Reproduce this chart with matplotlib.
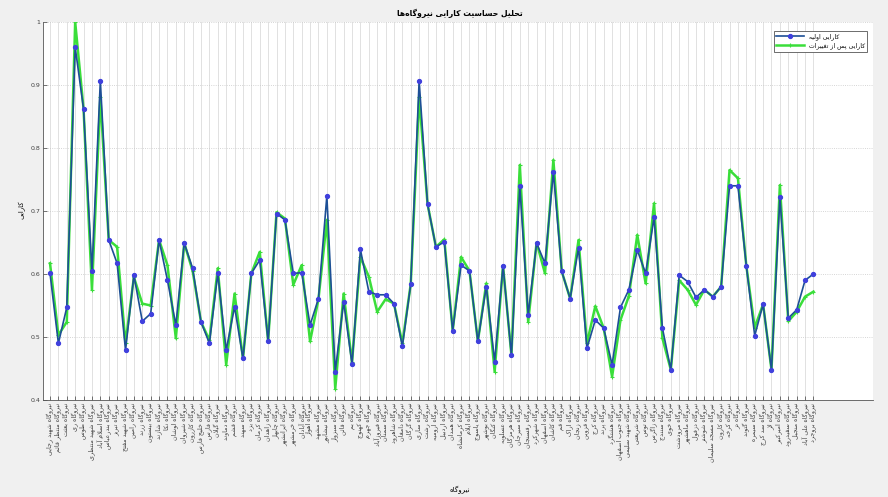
import numpy as np
import matplotlib
matplotlib.use("Agg")
import matplotlib.pyplot as plt

# --- data ---
plants = [
    'شهید رجایی', 'منتظر قائم', 'بعثت', 'ری', 'طوس', 'شهید منتظری', 'اسلام آباد', 'بندرعباس',
    'تبریز', 'شهید مفتح', 'رامین', 'زرند', 'بیستون', 'شازند', 'نکا', 'لوشان', 'شیروان',
    'کازرون', 'خلیج فارس', 'فارس', 'گیلان', 'دماوند', 'قشم', 'سهند', 'یزد', 'کرمان',
    'زاهدان', 'چابهار', 'ایرانشهر', 'خرمشهر', 'آبادان', 'اهواز', 'مشهد', 'نیشابور',
    'سبزوار', 'قائن', 'بم', 'کهنوج', 'جهرم', 'فیروزآباد', 'سمنان', 'شاهرود', 'دامغان',
    'گرگان', 'ساری', 'رشت', 'ارومیه', 'اردبیل', 'همدان', 'کرمانشاه', 'ایلام', 'یاسوج',
    'بوشهر', 'کنگان', 'عسلویه', 'هرمزگان', 'سیرجان', 'رفسنجان', 'شهرکرد', 'اصفهان',
    'کاشان', 'قم', 'اراک', 'زنجان', 'قزوین', 'کرج', 'پرند', 'هشتگرد', 'جنوب اصفهان',
    'شهید سلیمی', 'شریعتی', 'توس', 'زاگرس', 'سنندج', 'خوی', 'مرودشت', 'ماهشهر', 'دزفول',
    'شوشتر', 'مسجد سلیمان', 'کارون', 'کرخه', 'دز', 'گتوند', 'سیمره', 'سد کرج', 'لار',
    'امیرکبیر', 'سفیدرود', 'منجیل', 'علی آباد', 'بروجرد',
]

eff_base = [0.601, 0.490, 0.547, 0.960, 0.862, 0.604, 0.907, 0.654, 0.617, 0.479,
            0.598, 0.525, 0.537, 0.654, 0.590, 0.519, 0.649, 0.609, 0.524, 0.490,
            0.601, 0.479, 0.548, 0.466, 0.601, 0.622, 0.493, 0.696, 0.686, 0.601,
            0.602, 0.519, 0.561, 0.724, 0.445, 0.556, 0.457, 0.639, 0.572, 0.567,
            0.567, 0.553, 0.485, 0.584, 0.907, 0.711, 0.643, 0.651, 0.510, 0.614,
            0.605, 0.493, 0.580, 0.461, 0.613, 0.471, 0.739, 0.535, 0.649, 0.617,
            0.762, 0.604, 0.561, 0.642, 0.482, 0.527, 0.514, 0.456, 0.547, 0.575,
            0.638, 0.601, 0.690, 0.514, 0.448, 0.598, 0.588, 0.563, 0.575, 0.564,
            0.580, 0.740, 0.740, 0.613, 0.502, 0.552, 0.448, 0.722, 0.530, 0.543,
            0.590, 0.600]

eff_changed = [0.617, 0.503, 0.524, 1.000, 0.862, 0.575, 0.881, 0.654, 0.643, 0.490,
               0.595, 0.553, 0.550, 0.654, 0.614, 0.498, 0.649, 0.605, 0.524, 0.495,
               0.609, 0.456, 0.569, 0.466, 0.601, 0.635, 0.493, 0.698, 0.688, 0.583,
               0.614, 0.493, 0.560, 0.686, 0.418, 0.569, 0.460, 0.627, 0.596, 0.540,
               0.560, 0.553, 0.490, 0.584, 0.881, 0.711, 0.643, 0.655, 0.510, 0.627,
               0.605, 0.493, 0.585, 0.445, 0.613, 0.471, 0.773, 0.524, 0.650, 0.601,
               0.781, 0.604, 0.561, 0.654, 0.490, 0.549, 0.514, 0.437, 0.527, 0.565,
               0.662, 0.585, 0.712, 0.498, 0.448, 0.590, 0.575, 0.551, 0.575, 0.564,
               0.580, 0.765, 0.752, 0.613, 0.515, 0.552, 0.448, 0.741, 0.525, 0.540,
               0.564, 0.572]

# --- minimal persian shaping (matplotlib has no bidi / joining) ---
DUAL = {'ب': 0xFE8F, 'ت': 0xFE95, 'ث': 0xFE99, 'ج': 0xFE9D, 'ح': 0xFEA1, 'خ': 0xFEA5,
        'س': 0xFEB1, 'ش': 0xFEB5, 'ص': 0xFEB9, 'ض': 0xFEBD, 'ط': 0xFEC1, 'ظ': 0xFEC5,
        'ع': 0xFEC9, 'غ': 0xFECD, 'ف': 0xFED1, 'ق': 0xFED5, 'ل': 0xFEDD, 'م': 0xFEE1,
        'ن': 0xFEE5, 'ه': 0xFEE9, 'ی': 0xFBFC, 'پ': 0xFB56, 'چ': 0xFB7A, 'ک': 0xFB8E,
        'گ': 0xFB92, 'ئ': 0xFE89}
RIGHT = {'ا': 0xFE8D, 'آ': 0xFE81, 'د': 0xFEA9, 'ذ': 0xFEAB, 'ر': 0xFEAD, 'ز': 0xFEAF,
         'ژ': 0xFB8A, 'و': 0xFEED}


def fa(s):
    out = []
    i = 0
    while i < len(s):
        c = s[i]
        pj = i > 0 and s[i - 1] in DUAL
        nxt = s[i + 1] if i + 1 < len(s) else ''
        if c == 'ل' and nxt in ('ا', 'آ'):
            base = 0xFEFB if nxt == 'ا' else 0xFEF5
            out.append(chr(base + (1 if pj else 0)))
            i += 2
            continue
        if c in DUAL:
            nj = nxt in DUAL or nxt in RIGHT
            off = 3 if (pj and nj) else 1 if pj else 2 if nj else 0
            out.append(chr(DUAL[c] + off))
        elif c in RIGHT:
            out.append(chr(RIGHT[c] + (1 if pj else 0)))
        elif c != '\u200c':
            out.append(c)
        i += 1
    return ''.join(reversed(out))


plt.rcParams['font.family'] = ['DejaVu Sans']

fig = plt.figure(figsize=(8.88, 4.97), dpi=100, facecolor='#f0f0f0')
ax = fig.add_axes([43 / 888, 97 / 497, 830 / 888, 378 / 497])
ax.set_facecolor('white')

x = np.arange(1, len(plants) + 1)
ax.plot(x, eff_changed, color='#3ade3a', lw=1.8, marker='+', ms=3, mew=0.8,
        label=fa('کارایی پس از تغییرات'), zorder=2)
ax.plot(x, eff_base, color='#1d4f96', lw=1.2, marker='o', ms=2.8,
        mfc='#4040dd', mec='#4040dd', label=fa('کارایی اولیه'), zorder=3)

ax.set_xlim(0.165, 99.1)
ax.set_ylim(0.4, 1.0)
ax.set_xticks(x)
ax.set_xticklabels([fa('نیروگاه ' + p) for p in plants], rotation=90, fontsize=4.6,
                   color='#404040')
ax.set_yticks([0.4, 0.5, 0.6, 0.7, 0.8, 0.9, 1.0])
ax.set_yticklabels(['0.4', '0.5', '0.6', '0.7', '0.8', '0.9', '1'], fontsize=4.5,
                   color='#333333')
ax.tick_params(direction='in', length=3, width=0.5, colors='#404040', pad=2)

ax.grid(True, axis='x', color='#dcdcdc', lw=0.6)
ax.grid(True, axis='y', color='#c8c8c8', lw=0.6, ls=':')
ax.set_axisbelow(True)
for side in ['top', 'right']:
    ax.spines[side].set_visible(False)
for side in ['left', 'bottom']:
    ax.spines[side].set_color('#555555')
    ax.spines[side].set_linewidth(0.6)

# reverse legend order so the base series sits on top
h, l = ax.get_legend_handles_labels()
leg = ax.legend(h[::-1], l[::-1], loc='upper right', bbox_to_anchor=(0.997, 0.985),
                fontsize=4.4, fancybox=False, framealpha=1, edgecolor='#555555',
                handlelength=4.5, borderpad=0.45, labelspacing=0.35)
leg.get_frame().set_linewidth(0.6)

fig.text(460 / 888, 1 - 13 / 497, fa('تحلیل حساسیت کارایی نیروگاه‌ها'), ha='center',
         va='center', fontsize=5.5, fontweight='bold')
fig.text(22 / 888, 1 - 210 / 497, fa('کارایی'), rotation=90, ha='center', va='center',
         fontsize=5)
fig.text(460 / 888, 1 - 490 / 497, fa('نیروگاه'), ha='center', va='center', fontsize=5)

fig.savefig('out.png', dpi=100, facecolor=fig.get_facecolor())
